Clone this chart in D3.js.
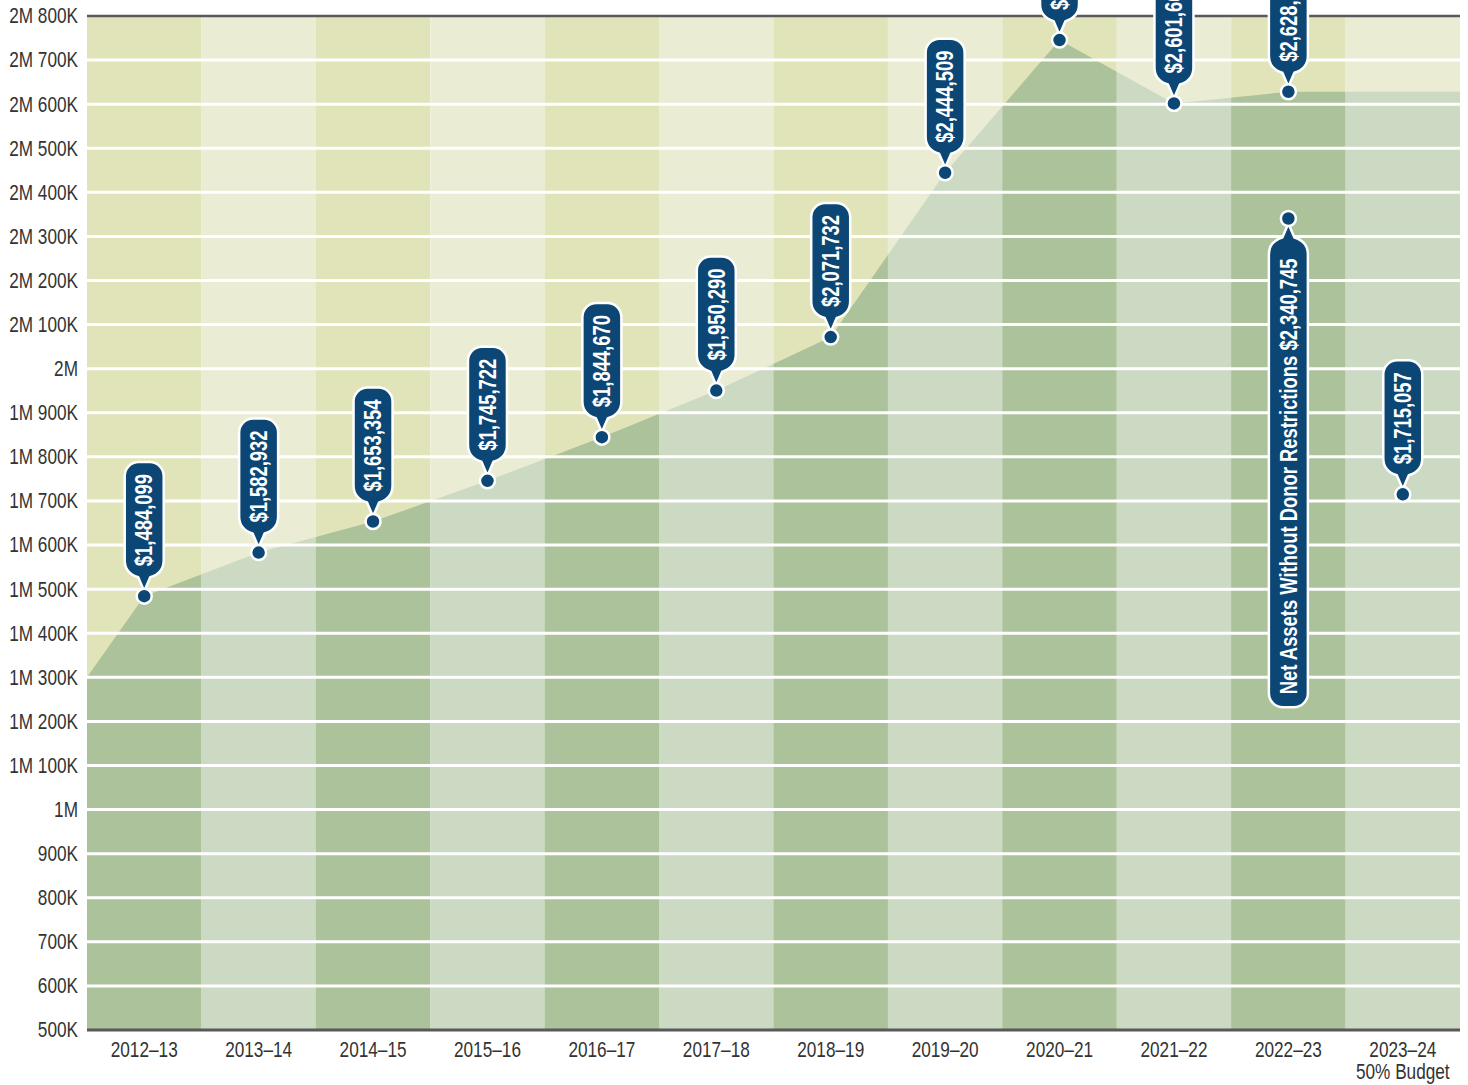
<!DOCTYPE html>
<html>
<head>
<meta charset="utf-8">
<script src="https://cdn.jsdelivr.net/npm/d3@7"></script>
<style>
  body { margin: 0; background: #fff; }
  svg { display: block; font-family: "Liberation Sans", Arial, sans-serif; }
</style>
</head>
<body>
<svg id="chart" width="1468" height="1085"></svg>
<script>
// fiscal years, the last one is the budget year
var years = ["2012–13", "2013–14", "2014–15", "2015–16", "2016–17", "2017–18",
             "2018–19", "2019–20", "2020–21", "2021–22", "2022–23", "2023–24"];
var yearNotes = ["", "", "", "", "", "", "", "", "", "", "", "50% Budget"];

// total net assets per year (top three labels are cut off in the source)
var netAssets = [1484099, 1582932, 1653354, 1745722, 1844670, 1950290,
                 2071732, 2444509, 2745395, 2601664, 2628196, 1715057];
var netLabels = ["$1,484,099", "$1,582,932", "$1,653,354", "$1,745,722", "$1,844,670", "$1,950,290",
                 "$2,071,732", "$2,444,509", "$2,745,395", "$2,601,664", "$2,628,196", "$1,715,057"];

// the shaded area starts at the left edge and covers the actual years only
var areaStartValue = 1300000;
var actualYearCount = 11;

// second marker in 2022-23
var noteYear = "2022–23";
var noteValue = 2340745;
var noteLabel = "Net Assets Without Donor Restrictions $2,340,745";

var tickValues = [500000, 600000, 700000, 800000, 900000, 1000000, 1100000, 1200000,
                  1300000, 1400000, 1500000, 1600000, 1700000, 1800000, 1900000, 2000000,
                  2100000, 2200000, 2300000, 2400000, 2500000, 2600000, 2700000, 2800000];
var tickLabels = ["500K", "600K", "700K", "800K", "900K", "1M", "1M 100K", "1M 200K",
                  "1M 300K", "1M 400K", "1M 500K", "1M 600K", "1M 700K", "1M 800K", "1M 900K", "2M",
                  "2M 100K", "2M 200K", "2M 300K", "2M 400K", "2M 500K", "2M 600K", "2M 700K", "2M 800K"];

var plotLeft = 87, plotRight = 1460, plotTop = 16, plotBottom = 1030;
var navy = "#0c4675";
var narrow = 0.8; // squeeze text to look like a condensed face

var svg = d3.select("#chart");

var x = d3.scaleBand().domain(years).range([plotLeft, plotRight]);
var y = d3.scaleLinear().domain([500000, 2800000]).range([plotBottom, plotTop]);

function squeeze(sel) {
  sel.each(function () {
    var len = this.getComputedTextLength();
    d3.select(this).attr("textLength", len * narrow).attr("lengthAdjust", "spacingAndGlyphs");
  });
}

// upper (yellowish) columns
svg.append("g")
  .selectAll("rect")
  .data(years)
  .join("rect")
  .attr("x", function (d) { return x(d); })
  .attr("y", plotTop)
  .attr("width", x.bandwidth())
  .attr("height", plotBottom - plotTop)
  .attr("fill", function (d, i) { return i % 2 ? "#eaedd4" : "#e0e4b8"; });

// area under the net assets line
var areaPts = [[plotLeft, y(areaStartValue)]];
for (var i = 0; i < actualYearCount; i++) {
  areaPts.push([x(years[i]) + x.bandwidth() / 2, y(netAssets[i])]);
}
areaPts.push([plotRight, y(netAssets[actualYearCount - 1])]);

var areaGen = d3.area()
  .x(function (d) { return d[0]; })
  .y0(plotBottom)
  .y1(function (d) { return d[1]; });

svg.append("clipPath")
  .attr("id", "under")
  .append("path")
  .attr("d", areaGen(areaPts));

svg.append("g")
  .attr("clip-path", "url(#under)")
  .selectAll("rect")
  .data(years)
  .join("rect")
  .attr("x", function (d) { return x(d); })
  .attr("y", plotTop)
  .attr("width", x.bandwidth())
  .attr("height", plotBottom - plotTop)
  .attr("fill", function (d, i) { return i % 2 ? "#ccd9c3" : "#abc29b"; });

// white grid lines
svg.append("g")
  .selectAll("line")
  .data(tickValues.slice(1, -1))
  .join("line")
  .attr("x1", plotLeft)
  .attr("x2", plotRight)
  .attr("y1", function (d) { return y(d); })
  .attr("y2", function (d) { return y(d); })
  .attr("stroke", "#fff")
  .attr("stroke-width", 3);

svg.append("line")
  .attr("x1", plotLeft).attr("x2", plotRight)
  .attr("y1", y(2800000)).attr("y2", y(2800000))
  .attr("stroke", "#59595b").attr("stroke-width", 2.5);
svg.append("line")
  .attr("x1", plotLeft).attr("x2", plotRight)
  .attr("y1", y(500000)).attr("y2", y(500000))
  .attr("stroke", "#59595b").attr("stroke-width", 3);

// axes
var yAxis = svg.append("g")
  .attr("transform", "translate(" + plotLeft + ",0)")
  .call(d3.axisLeft(y).tickValues(tickValues)
    .tickFormat(function (d, i) { return tickLabels[i]; })
    .tickSize(0).tickPadding(9));
yAxis.select(".domain").remove();
yAxis.attr("font-family", null).attr("font-size", null);
yAxis.selectAll("text").attr("font-size", 21.5).attr("fill", "#333").call(squeeze);

var xAxis = svg.append("g")
  .attr("transform", "translate(0," + plotBottom + ")")
  .call(d3.axisBottom(x).tickSize(0).tickPadding(12));
xAxis.select(".domain").remove();
xAxis.attr("font-family", null).attr("font-size", null);
xAxis.selectAll(".tick")
  .append("text")
  .attr("y", 34)
  .attr("dy", "0.71em")
  .attr("text-anchor", "middle")
  .text(function (d, i) { return yearNotes[i]; });
xAxis.selectAll("text").attr("font-size", 21.5).attr("fill", "#333").call(squeeze);

// pin markers
var hw = 19.5, rr = 14;
function pinPath(T) {
  return "M0,-5 L-6,-19 Q" + (-hw) + ",-23 " + (-hw) + ",-36 V" + (T + rr) +
    " A" + rr + "," + rr + " 0 0 1 " + (-hw + rr) + "," + T +
    " H" + (hw - rr) +
    " A" + rr + "," + rr + " 0 0 1 " + hw + "," + (T + rr) +
    " V-36 Q" + hw + ",-23 6,-19 Z";
}

function addPin(cx, cy, label, down) {
  var g = svg.append("g").attr("transform", "translate(" + cx + "," + cy + ")");
  var path = g.append("path")
    .attr("fill", navy)
    .attr("stroke", "#fff")
    .attr("stroke-width", 2.5)
    .attr("stroke-linejoin", "round");
  var t = g.append("text")
    .attr("fill", "#fff")
    .attr("font-size", 23)
    .attr("font-weight", "bold")
    .attr("dy", "0.36em")
    .text(label);
  t.call(squeeze);
  var len = +t.attr("textLength");
  if (!down) {
    t.attr("transform", "translate(0,-30) rotate(-90)").attr("text-anchor", "start");
    path.attr("d", pinPath(-30 - len - 12));
  } else {
    t.attr("transform", "translate(0," + (40 + len) + ") rotate(-90)").attr("text-anchor", "start");
    path.attr("d", pinPath(-(40 + len + 13))).attr("transform", "scale(1,-1)");
  }
  g.append("circle")
    .attr("r", 7.5)
    .attr("fill", navy)
    .attr("stroke", "#fff")
    .attr("stroke-width", 2.5);
}

years.forEach(function (yr, i) {
  addPin(x(yr) + x.bandwidth() / 2, y(netAssets[i]), netLabels[i], false);
});
addPin(x(noteYear) + x.bandwidth() / 2, y(noteValue), noteLabel, true);
</script>
</body>
</html>
